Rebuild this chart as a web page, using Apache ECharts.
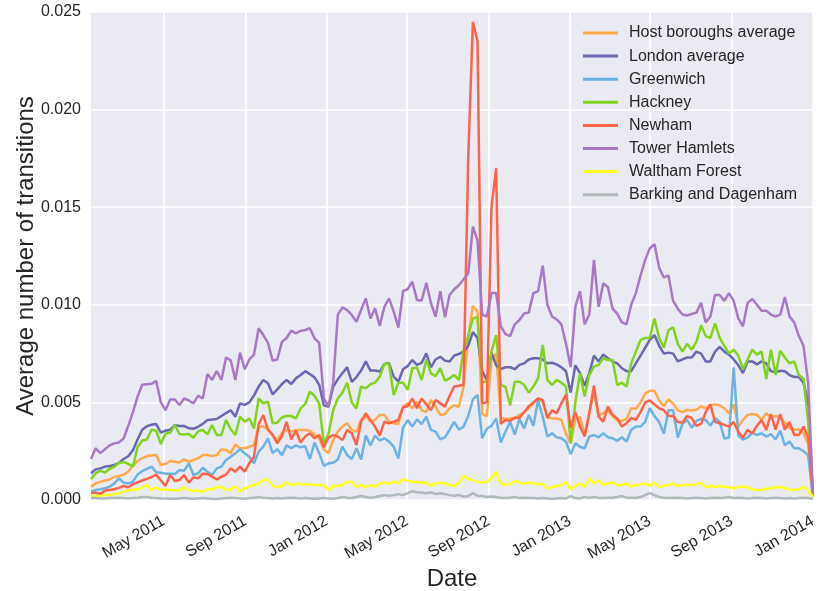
<!DOCTYPE html>
<html>
<head>
<meta charset="utf-8">
<script src="https://cdn.jsdelivr.net/npm/echarts@6/dist/echarts.min.js"></script>
<style>
html,body{margin:0;padding:0;background:#ffffff;}
#chart{width:827px;height:591px;}
</style>
</head>
<body>
<div id="chart"></div>
<script>
// ---- data ----
const seriesNames = ['Host boroughs average','London average','Greenwich','Hackney','Newham','Tower Hamlets','Waltham Forest','Barking and Dagenham'];
const firstWeek = '2011-01-12';
const weekCount = 156;
const tickDates = ['2011-05-01','2011-09-01','2012-01-01','2012-05-01','2012-09-01','2013-01-01','2013-05-01','2013-09-01','2014-01-01'];
const tickLabels = ['May 2011','Sep 2011','Jan 2012','May 2012','Sep 2012','Jan 2013','May 2013','Sep 2013','Jan 2014'];
const yTicks = [0, 0.005, 0.010, 0.015, 0.020, 0.025];

const hostBoroughs = [0.68e-3,0.85e-3,0.93e-3,1.0e-3,1.05e-3,1.18e-3,1.23e-3,1.3e-3,1.45e-3,1.75e-3,2.0e-3,2.15e-3,2.25e-3,2.28e-3,2.3e-3,1.8e-3,1.84e-3,2.0e-3,1.96e-3,1.92e-3,2.08e-3,1.96e-3,2.05e-3,2.13e-3,2.3e-3,2.31e-3,2.25e-3,2.3e-3,2.6e-3,2.56e-3,2.4e-3,2.85e-3,2.65e-3,2.65e-3,2.73e-3,2.82e-3,3.76e-3,3.76e-3,3.65e-3,
3.3e-3,3.07e-3,3.42e-3,3.59e-3,3.5e-3,3.59e-3,3.59e-3,3.59e-3,3.55e-3,3.35e-3,3.16e-3,2.6e-3,2.4e-3,3.07e-3,3.5e-3,3.76e-3,3.93e-3,3.59e-3,3.5e-3,4.1e-3,4.3e-3,4.01e-3,4.1e-3,4.36e-3,4.36e-3,4.01e-3,3.93e-3,3.89e-3,4.78e-3,4.95e-3,4.7e-3,5.04e-3,4.61e-3,4.5e-3,5.12e-3,4.78e-3,4.36e-3,4.4e-3,
4.7e-3,4.85e-3,4.78e-3,5.8e-3,8.3e-3,9.94e-3,9.65e-3,4.4e-3,4.3e-3,7.2e-3,7.5e-3,4.2e-3,4.15e-3,4.18e-3,4.2e-3,4.35e-3,4.5e-3,4.7e-3,4.95e-3,5.2e-3,5.0e-3,4.25e-3,4.18e-3,4.18e-3,4.1e-3,3.4e-3,2.9e-3,4.15e-3,4.25e-3,3.35e-3,4.4e-3,5.6e-3,4.3e-3,4.45e-3,4.6e-3,4.3e-3,4.1e-3,4.05e-3,4.15e-3,
4.7e-3,4.68e-3,5.0e-3,5.45e-3,5.6e-3,5.6e-3,5.1e-3,4.8e-3,5.15e-3,4.95e-3,4.6e-3,4.5e-3,4.62e-3,4.58e-3,4.62e-3,4.8e-3,4.7e-3,4.85e-3,4.9e-3,4.85e-3,4.7e-3,4.45e-3,4.9e-3,3.76e-3,4.1e-3,4.36e-3,4.41e-3,4.36e-3,4.1e-3,4.44e-3,4.24e-3,4.3e-3,4.24e-3,3.96e-3,3.7e-3,3.6e-3,3.62e-3,3.42e-3,2.9e-3,0.25e-3];

const londonAverage = [1.37e-3,1.57e-3,1.62e-3,1.71e-3,1.74e-3,1.79e-3,1.9e-3,2.1e-3,2.24e-3,2.55e-3,3.1e-3,3.6e-3,3.78e-3,3.86e-3,3.89e-3,3.45e-3,3.55e-3,3.6e-3,3.83e-3,3.79e-3,3.79e-3,3.68e-3,3.65e-3,3.75e-3,3.9e-3,4.1e-3,4.12e-3,4.15e-3,4.3e-3,4.45e-3,4.6e-3,4.27e-3,4.95e-3,4.87e-3,5.0e-3,5.35e-3,5.81e-3,6.15e-3,5.98e-3,
5.41e-3,5.67e-3,5.94e-3,6.15e-3,5.94e-3,6.23e-3,6.4e-3,6.6e-3,6.45e-3,6.28e-3,5.9e-3,4.85e-3,4.78e-3,5.8e-3,6.18e-3,6.5e-3,6.8e-3,6.05e-3,6.3e-3,6.63e-3,7.1e-3,6.63e-3,6.63e-3,6.58e-3,6.97e-3,7.0e-3,6.32e-3,6.06e-3,6.7e-3,6.86e-3,7.17e-3,6.92e-3,7.03e-3,7.51e-3,6.79e-3,7.2e-3,7.34e-3,7.14e-3,
7.1e-3,7.4e-3,7.48e-3,7.6e-3,7.9e-3,8.6e-3,8.3e-3,6.6e-3,6.15e-3,7.55e-3,6.9e-3,6.7e-3,6.8e-3,6.8e-3,6.7e-3,6.92e-3,7.0e-3,7.2e-3,7.26e-3,7.26e-3,7.2e-3,7.0e-3,7.03e-3,6.95e-3,6.8e-3,6.6e-3,5.5e-3,6.9e-3,6.5e-3,5.85e-3,6.5e-3,7.4e-3,7.1e-3,7.45e-3,7.26e-3,7.1e-3,7.0e-3,6.75e-3,6.6e-3,
6.6e-3,7.0e-3,7.4e-3,7.8e-3,8.2e-3,8.45e-3,7.9e-3,7.5e-3,7.55e-3,7.5e-3,7.1e-3,7.2e-3,7.3e-3,7.3e-3,7.6e-3,7.5e-3,7.1e-3,7.1e-3,7.6e-3,7.85e-3,7.6e-3,7.45e-3,7.2e-3,6.9e-3,6.5e-3,7.1e-3,7.1e-3,6.95e-3,7.1e-3,7.0e-3,6.6e-3,6.55e-3,6.62e-3,6.6e-3,6.4e-3,6.3e-3,6.3e-3,6.0e-3,5.0e-3,0.25e-3];

const greenwich = [0.43e-3,0.51e-3,0.55e-3,0.6e-3,0.68e-3,0.85e-3,1.11e-3,0.89e-3,0.85e-3,0.94e-3,1.3e-3,1.48e-3,1.6e-3,1.71e-3,1.42e-3,1.4e-3,1.35e-3,1.35e-3,1.33e-3,1.54e-3,1.5e-3,1.88e-3,1.28e-3,1.37e-3,1.65e-3,1.45e-3,1.28e-3,1.62e-3,1.71e-3,2.05e-3,2.22e-3,2.39e-3,2.6e-3,2.39e-3,2.22e-3,1.88e-3,2.48e-3,2.73e-3,3.16e-3,
2.4e-3,2.6e-3,2.3e-3,2.8e-3,2.65e-3,2.8e-3,2.7e-3,2.75e-3,2.1e-3,2.94e-3,2.4e-3,1.75e-3,1.88e-3,1.91e-3,2.08e-3,2.73e-3,2.3e-3,2.1e-3,2.65e-3,2.08e-3,3.3e-3,2.8e-3,3.3e-3,3.05e-3,3.16e-3,2.99e-3,2.73e-3,2.13e-3,3.7e-3,4.1e-3,3.76e-3,4.13e-3,3.89e-3,4.27e-3,3.59e-3,3.5e-3,3.11e-3,3.21e-3,
3.6e-3,4.0e-3,3.6e-3,3.76e-3,4.3e-3,5.15e-3,5.38e-3,3.16e-3,3.65e-3,3.8e-3,4.18e-3,2.95e-3,3.5e-3,4.0e-3,3.35e-3,4.15e-3,3.67e-3,4.36e-3,3.8e-3,5.12e-3,4.27e-3,3.25e-3,3.42e-3,3.21e-3,3.16e-3,2.99e-3,2.35e-3,2.9e-3,2.73e-3,2.65e-3,3.25e-3,3.33e-3,3.21e-3,3.42e-3,3.21e-3,3.16e-3,3.04e-3,3.21e-3,3.0e-3,
3.6e-3,3.76e-3,3.76e-3,4.0e-3,4.7e-3,4.3e-3,4.0e-3,3.4e-3,4.6e-3,4.6e-3,3.2e-3,3.9e-3,4.1e-3,3.7e-3,4.05e-3,4.15e-3,4.1e-3,3.8e-3,4.2e-3,4.0e-3,3.15e-3,3.2e-3,6.8e-3,3.3e-3,3.1e-3,3.2e-3,3.45e-3,3.33e-3,3.42e-3,3.25e-3,3.38e-3,3.1e-3,3.55e-3,2.8e-3,3.0e-3,2.65e-3,2.65e-3,2.5e-3,2.3e-3,0.15e-3];

const hackney = [1.06e-3,1.37e-3,1.5e-3,1.4e-3,1.6e-3,1.7e-3,1.9e-3,1.95e-3,1.85e-3,1.71e-3,2.7e-3,3.05e-3,3.1e-3,3.6e-3,3.55e-3,2.87e-3,3.4e-3,3.45e-3,3.84e-3,3.38e-3,3.36e-3,3.38e-3,3.19e-3,3.53e-3,3.59e-3,3.36e-3,3.84e-3,3.33e-3,3.33e-3,4.1e-3,3.62e-3,3.33e-3,4.27e-3,4.01e-3,4.18e-3,3.67e-3,5.21e-3,4.95e-3,5.04e-3,
3.93e-3,3.96e-3,4.23e-3,4.3e-3,4.3e-3,4.18e-3,4.69e-3,4.92e-3,5.55e-3,5.33e-3,4.95e-3,2.85e-3,3.4e-3,4.6e-3,5.2e-3,5.5e-3,6.01e-3,4.99e-3,4.69e-3,5.81e-3,5.72e-3,5.93e-3,6.01e-3,6.32e-3,6.97e-3,6.97e-3,5.38e-3,6.01e-3,6.01e-3,5.64e-3,6.75e-3,6.79e-3,6.15e-3,7.2e-3,6.49e-3,6.35e-3,6.75e-3,6.12e-3,
6.23e-3,6.4e-3,6.15e-3,7.68e-3,8.4e-3,9.3e-3,9.36e-3,6.0e-3,6.1e-3,7.6e-3,8.45e-3,5.9e-3,5.8e-3,4.85e-3,6.06e-3,6.06e-3,5.9e-3,5.5e-3,5.81e-3,6.23e-3,7.94e-3,6.15e-3,5.89e-3,6.15e-3,6.01e-3,5.81e-3,2.9e-3,5.0e-3,6.49e-3,5.3e-3,6.4e-3,6.83e-3,6.92e-3,7.26e-3,7.17e-3,7.17e-3,5.89e-3,6.01e-3,5.81e-3,
7.0e-3,7.6e-3,8.2e-3,8.3e-3,8.3e-3,9.3e-3,8.3e-3,7.8e-3,8.7e-3,8.85e-3,8.0e-3,7.6e-3,8.0e-3,7.7e-3,8.1e-3,8.95e-3,8.4e-3,8.3e-3,9.05e-3,8.3e-3,7.9e-3,7.5e-3,7.7e-3,7.4e-3,6.7e-3,7.2e-3,7.7e-3,7.45e-3,7.6e-3,6.2e-3,7.7e-3,6.4e-3,7.65e-3,7.3e-3,7.0e-3,7.1e-3,6.4e-3,6.2e-3,4.0e-3,0.2e-3];

const newham = [0.34e-3,0.38e-3,0.31e-3,0.48e-3,0.51e-3,0.55e-3,0.62e-3,0.72e-3,0.65e-3,0.8e-3,0.9e-3,1.0e-3,1.08e-3,1.17e-3,1.3e-3,1.0e-3,0.72e-3,1.28e-3,0.97e-3,1.02e-3,1.28e-3,0.89e-3,1.16e-3,1.11e-3,1.35e-3,1.33e-3,1.2e-3,1.05e-3,1.2e-3,1.3e-3,1.62e-3,1.45e-3,1.71e-3,1.45e-3,1.88e-3,2.22e-3,3.89e-3,4.35e-3,3.59e-3,
3.35e-3,2.9e-3,3.3e-3,4.0e-3,3.1e-3,3.55e-3,2.95e-3,3.25e-3,3.42e-3,3.16e-3,3.33e-3,2.7e-3,3.2e-3,3.33e-3,3.25e-3,3.07e-3,3.59e-3,3.42e-3,2.82e-3,4.01e-3,4.44e-3,4.1e-3,3.76e-3,3.3e-3,4.01e-3,3.93e-3,4.01e-3,4.1e-3,4.75e-3,4.8e-3,5.2e-3,4.7e-3,5.2e-3,4.9e-3,4.6e-3,5.12e-3,4.95e-3,4.78e-3,
5.33e-3,5.81e-3,5.85e-3,5.9e-3,17.5e-3,24.5e-3,23.5e-3,4.95e-3,5.0e-3,15.0e-3,17.0e-3,3.9e-3,4.1e-3,4.05e-3,4.22e-3,4.2e-3,4.5e-3,4.8e-3,5.0e-3,5.2e-3,5.12e-3,4.2e-3,4.6e-3,4.44e-3,4.95e-3,5.4e-3,3.7e-3,4.5e-3,3.76e-3,3.25e-3,4.44e-3,5.85e-3,4.27e-3,4.01e-3,4.78e-3,4.36e-3,4.18e-3,3.76e-3,3.93e-3,
4.2e-3,4.1e-3,4.5e-3,5.0e-3,5.1e-3,4.9e-3,4.7e-3,4.6e-3,4.3e-3,4.3e-3,4.0e-3,3.96e-3,4.3e-3,4.2e-3,3.8e-3,3.9e-3,4.5e-3,4.9e-3,4.0e-3,3.93e-3,3.85e-3,3.76e-3,4.0e-3,3.5e-3,3.2e-3,3.59e-3,3.42e-3,3.8e-3,4.1e-3,3.59e-3,4.4e-3,3.6e-3,4.4e-3,3.6e-3,4.0e-3,3.33e-3,3.33e-3,3.76e-3,3.2e-3,0.3e-3];

const towerHamlets = [2.1e-3,2.65e-3,2.4e-3,2.6e-3,2.8e-3,2.9e-3,2.95e-3,3.15e-3,3.8e-3,4.5e-3,5.3e-3,5.9e-3,5.93e-3,5.95e-3,6.1e-3,5.0e-3,4.6e-3,5.15e-3,5.15e-3,4.87e-3,5.2e-3,5.1e-3,4.95e-3,5.35e-3,5.2e-3,6.45e-3,6.15e-3,6.6e-3,6.15e-3,7.3e-3,7.15e-3,6.15e-3,7.55e-3,6.7e-3,7.2e-3,7.45e-3,8.8e-3,8.45e-3,8.05e-3,
7.14e-3,7.2e-3,8.1e-3,8.3e-3,8.68e-3,8.54e-3,8.66e-3,8.71e-3,8.8e-3,8.28e-3,8.05e-3,5.2e-3,4.8e-3,6.0e-3,9.5e-3,9.87e-3,9.73e-3,9.48e-3,9.13e-3,9.73e-3,10.33e-3,9.3e-3,9.82e-3,8.92e-3,9.9e-3,10.33e-3,9.65e-3,8.83e-3,10.7e-3,10.8e-3,11.18e-3,10.25e-3,10.22e-3,11.13e-3,10.08e-3,9.4e-3,10.7e-3,9.36e-3,
10.5e-3,10.8e-3,11.0e-3,11.3e-3,11.6e-3,14.0e-3,13.3e-3,9.5e-3,9.4e-3,10.6e-3,10.6e-3,8.9e-3,8.5e-3,8.4e-3,9.0e-3,9.22e-3,9.55e-3,9.6e-3,10.6e-3,10.7e-3,12.0e-3,10.0e-3,9.4e-3,9.25e-3,9.0e-3,8.0e-3,6.8e-3,9.9e-3,10.7e-3,9.0e-3,9.5e-3,12.3e-3,9.9e-3,11.1e-3,10.9e-3,9.8e-3,9.55e-3,9.1e-3,9.0e-3,
10.0e-3,10.6e-3,11.5e-3,12.3e-3,12.9e-3,13.1e-3,11.9e-3,11.4e-3,11.5e-3,10.2e-3,9.8e-3,9.5e-3,9.45e-3,9.53e-3,9.6e-3,10.1e-3,9.1e-3,9.4e-3,10.5e-3,10.5e-3,10.2e-3,10.6e-3,10.2e-3,9.3e-3,8.9e-3,10.1e-3,10.3e-3,10.0e-3,9.7e-3,9.7e-3,9.5e-3,9.4e-3,9.5e-3,10.4e-3,9.4e-3,9.1e-3,8.4e-3,7.9e-3,6.0e-3,0.4e-3];

const walthamForest = [0.2e-3,0.2e-3,0.2e-3,0.25e-3,0.27e-3,0.29e-3,0.34e-3,0.43e-3,0.5e-3,0.52e-3,0.55e-3,0.65e-3,0.77e-3,0.51e-3,0.65e-3,0.51e-3,0.55e-3,0.51e-3,0.51e-3,0.48e-3,0.65e-3,0.51e-3,0.48e-3,0.48e-3,0.43e-3,0.55e-3,0.55e-3,0.65e-3,0.68e-3,0.51e-3,0.55e-3,0.72e-3,0.43e-3,0.6e-3,0.68e-3,0.77e-3,0.85e-3,1.02e-3,1.02e-3,
0.72e-3,0.65e-3,0.72e-3,0.89e-3,0.77e-3,0.82e-3,0.82e-3,0.82e-3,0.8e-3,0.77e-3,0.77e-3,0.77e-3,0.51e-3,0.72e-3,0.72e-3,0.77e-3,0.94e-3,0.94e-3,0.68e-3,0.77e-3,0.65e-3,0.77e-3,0.68e-3,0.85e-3,0.89e-3,0.82e-3,0.94e-3,0.85e-3,1.06e-3,0.99e-3,0.94e-3,0.94e-3,0.89e-3,0.89e-3,0.72e-3,0.85e-3,0.89e-3,0.85e-3,
0.77e-3,0.72e-3,0.89e-3,1.23e-3,1.11e-3,1.02e-3,0.94e-3,0.89e-3,0.94e-3,1.1e-3,1.45e-3,0.85e-3,0.77e-3,0.82e-3,0.99e-3,0.89e-3,0.85e-3,0.89e-3,0.85e-3,0.82e-3,0.82e-3,0.6e-3,0.65e-3,0.72e-3,0.77e-3,0.94e-3,0.55e-3,0.72e-3,0.85e-3,0.65e-3,1.11e-3,0.85e-3,1.02e-3,0.77e-3,0.85e-3,0.89e-3,0.77e-3,0.77e-3,0.85e-3,
0.7e-3,0.77e-3,0.8e-3,0.85e-3,0.72e-3,0.89e-3,0.68e-3,0.72e-3,0.77e-3,0.85e-3,0.72e-3,0.77e-3,0.77e-3,0.77e-3,0.8e-3,0.89e-3,0.65e-3,0.72e-3,0.68e-3,0.72e-3,0.68e-3,0.65e-3,0.6e-3,0.68e-3,0.68e-3,0.65e-3,0.55e-3,0.51e-3,0.51e-3,0.58e-3,0.6e-3,0.65e-3,0.68e-3,0.6e-3,0.55e-3,0.51e-3,0.55e-3,0.68e-3,0.51e-3,0.15e-3];

const barkingDagenham = [0.1e-3,0.1e-3,0.08e-3,0.08e-3,0.1e-3,0.1e-3,0.12e-3,0.1e-3,0.08e-3,0.1e-3,0.12e-3,0.15e-3,0.15e-3,0.12e-3,0.1e-3,0.08e-3,0.08e-3,0.06e-3,0.06e-3,0.08e-3,0.1e-3,0.08e-3,0.06e-3,0.08e-3,0.1e-3,0.08e-3,0.06e-3,0.05e-3,0.08e-3,0.1e-3,0.12e-3,0.1e-3,0.08e-3,0.06e-3,0.1e-3,0.12e-3,0.15e-3,0.12e-3,0.1e-3,
0.08e-3,0.1e-3,0.08e-3,0.1e-3,0.12e-3,0.1e-3,0.08e-3,0.1e-3,0.08e-3,0.06e-3,0.08e-3,0.1e-3,0.08e-3,0.06e-3,0.1e-3,0.15e-3,0.12e-3,0.1e-3,0.15e-3,0.2e-3,0.15e-3,0.12e-3,0.15e-3,0.2e-3,0.25e-3,0.22e-3,0.25e-3,0.3e-3,0.25e-3,0.35e-3,0.45e-3,0.4e-3,0.38e-3,0.35e-3,0.4e-3,0.3e-3,0.35e-3,0.3e-3,
0.25e-3,0.22e-3,0.26e-3,0.17e-3,0.2e-3,0.35e-3,0.22e-3,0.2e-3,0.15e-3,0.18e-3,0.15e-3,0.12e-3,0.1e-3,0.12e-3,0.15e-3,0.1e-3,0.12e-3,0.1e-3,0.1e-3,0.08e-3,0.1e-3,0.08e-3,0.06e-3,0.08e-3,0.1e-3,0.08e-3,0.2e-3,0.1e-3,0.08e-3,0.15e-3,0.12e-3,0.15e-3,0.12e-3,0.1e-3,0.12e-3,0.12e-3,0.15e-3,0.2e-3,0.12e-3,
0.12e-3,0.1e-3,0.15e-3,0.25e-3,0.35e-3,0.25e-3,0.15e-3,0.12e-3,0.1e-3,0.1e-3,0.12e-3,0.1e-3,0.08e-3,0.1e-3,0.12e-3,0.1e-3,0.08e-3,0.1e-3,0.12e-3,0.1e-3,0.12e-3,0.15e-3,0.1e-3,0.12e-3,0.1e-3,0.08e-3,0.1e-3,0.12e-3,0.1e-3,0.08e-3,0.1e-3,0.12e-3,0.1e-3,0.08e-3,0.1e-3,0.08e-3,0.1e-3,0.12e-3,0.1e-3,0.05e-3];

const seriesValues = [hostBoroughs, londonAverage, greenwich, hackney, newham, towerHamlets, walthamForest, barkingDagenham];
const seriesColors = ['#FFA94D','#6A68B0','#6CB2E2','#80D41D','#FF6347','#A878C4','#FFFF1F','#B0B9B9'];

// ---- build ----
const DAY = 86400000;
const t0 = Date.parse(firstWeek + 'T00:00:00Z');
const weekDates = [];
for (let i = 0; i < weekCount; i++) weekDates.push(t0 + i * 7 * DAY);
const tickValues = tickDates.map(d => Date.parse(d + 'T00:00:00Z'));

const FONT = "'Liberation Sans', Arial, Helvetica, sans-serif";
const TXT = '#262626';

const chart = echarts.init(document.getElementById('chart'), null, {renderer: 'canvas'});
chart.setOption({
  animation: false,
  backgroundColor: '#ffffff',
  textStyle: {fontFamily: FONT},
  grid: {
    left: 91, right: 14, top: 12, bottom: 91,
    show: true, backgroundColor: '#EAEAF2', borderWidth: 0,
    containLabel: false, outerBoundsMode: 'none'
  },
  legend: {
    data: seriesNames,
    orient: 'vertical',
    left: 583, top: 25,
    padding: 0,
    itemWidth: 35, itemHeight: 16, itemGap: 7.1,
    icon: 'path://M0,7 L35,7 L35,10 L0,10 Z',
    textStyle: {fontSize: 16, color: TXT, fontFamily: FONT, lineHeight: 16, padding: [0, 0, 0, 6]},
    selectedMode: false
  },
  xAxis: {
    type: 'value',
    min: weekDates[0],
    max: weekDates[weekCount - 1] + DAY / 4,
    name: 'Date',
    nameLocation: 'middle',
    nameGap: 67,
    nameMoveOverlap: false,
    nameTextStyle: {fontSize: 24, color: TXT, fontFamily: FONT},
    axisLine: {show: false},
    axisTick: {show: false, customValues: tickValues},
    axisLabel: {
      customValues: tickValues,
      rotate: 30, margin: 20,
      fontSize: 16, color: TXT, fontFamily: FONT,
      formatter: v => { const k = tickValues.indexOf(v); return k >= 0 ? tickLabels[k] : ''; }
    },
    splitLine: {show: true, lineStyle: {color: '#ffffff', width: 1.6}}
  },
  yAxis: {
    type: 'value',
    min: yTicks[0], max: yTicks[yTicks.length - 1], interval: 0.005,
    name: 'Average number of transitions',
    nameLocation: 'middle',
    nameGap: 53,
    nameMoveOverlap: false,
    nameTextStyle: {fontSize: 24, color: TXT, fontFamily: FONT},
    axisLine: {show: false},
    axisTick: {show: false},
    axisLabel: {margin: 10, fontSize: 16, color: TXT, fontFamily: FONT, formatter: v => v.toFixed(3)},
    splitLine: {show: true, lineStyle: {color: '#ffffff', width: 1.6}}
  },
  series: seriesNames.map((name, s) => ({
    name: name,
    type: 'line',
    symbol: 'none',
    showSymbol: false,
    color: seriesColors[s],
    lineStyle: {width: 2.5, color: seriesColors[s]},
    emphasis: {disabled: true},
    data: weekDates.map((d, i) => [d, seriesValues[s][i]])
  }))
});
</script>
</body>
</html>
